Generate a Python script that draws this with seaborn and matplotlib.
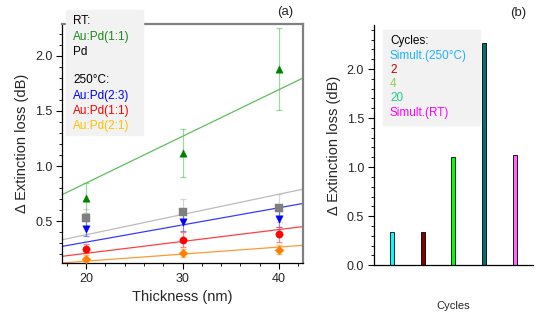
import seaborn as sns
import matplotlib.pyplot as plt
import matplotlib.patches as mpatches
from matplotlib.ticker import MultipleLocator
import numpy as np
import pandas as pd

sns.set_style("ticks")
plt.rcParams['font.family'] = ['Liberation Sans', 'DejaVu Sans']

# panel (a): extinction loss vs thickness
thickness = [20, 30, 40]
rt_aupd11 = [0.71, 1.12, 1.88]
rt_aupd11_err = [0.14, 0.22, 0.37]
rt_pd = [0.53, 0.58, 0.62]
rt_pd_err = [0.08, 0.12, 0.13]
ht_aupd23 = [0.43, 0.49, 0.52]
ht_aupd23_err = [0.07, 0.08, 0.07]
ht_aupd11 = [0.25, 0.33, 0.38]
ht_aupd11_err = [0.04, 0.07, 0.07]
ht_aupd21 = [0.16, 0.21, 0.24]
ht_aupd21_err = [0.03, 0.04, 0.04]

# linear fits (slope, intercept) as drawn in the figure
fit_slopes = [0.0424, 0.0184, 0.0156, 0.0108, 0.0064]
fit_intercepts = [-0.002, 0.008, -0.003, -0.009, 0.008]

# panel (b): extinction loss per cycle scheme
cycle_labels = ["Simult.(250°C)", "2", "4", "20", "Simult.(RT)"]
cycle_loss = [0.34, 0.34, 1.10, 2.27, 1.12]

series = [
    (rt_aupd11, rt_aupd11_err, "#007f00", "#5cbf5c", "^"),
    (rt_pd, rt_pd_err, "#7f7f7f", "#bcbcbc", "s"),
    (ht_aupd23, ht_aupd23_err, "#0000ff", "#3a3aff", "v"),
    (ht_aupd11, ht_aupd11_err, "#ff0000", "#ff4040", "o"),
    (ht_aupd21, ht_aupd21_err, "#ff8000", "#ff9a33", "D"),
]

fig = plt.figure(figsize=(5.45, 3.16), dpi=100)
ax1 = fig.add_axes([0.114, 0.168, 0.442, 0.756])
ax2 = fig.add_axes([0.686, 0.161, 0.292, 0.760])

xlim = (17.5, 42.5)
xs = np.array(xlim)
for (vals, err, c, lc, m), k, b in zip(series, fit_slopes, fit_intercepts):
    sns.lineplot(x=xs, y=k * xs + b, ax=ax1, color=lc, lw=0.9, zorder=2)
    ax1.errorbar(thickness, vals, yerr=err, fmt="none", ecolor=lc, alpha=0.6,
                 elinewidth=0.9, capsize=2.5, capthick=0.9, zorder=3)
    sns.scatterplot(x=thickness, y=vals, ax=ax1, color=c, marker=m,
                    s=28 if m != "D" else 20, edgecolor=c, linewidth=0.3, zorder=4)

ax1.set_xlim(*xlim)
ax1.set_ylim(0.12, 2.29)
ax1.set_xticks([20, 30, 40])
ax1.set_yticks([0.5, 1.0, 1.5, 2.0])
ax1.xaxis.set_minor_locator(MultipleLocator(2))
ax1.yaxis.set_minor_locator(MultipleLocator(0.1))
ax1.set_xlabel("Thickness (nm)", fontsize=10.5, labelpad=4)
ax1.set_ylabel("Δ Extinction loss (dB)", fontsize=10.5, labelpad=4)
for s in ["top", "right"]:
    ax1.spines[s].set_color("#808080")
    ax1.spines[s].set_linewidth(1.6)
for s in ["left", "bottom"]:
    ax1.spines[s].set_color("black")
    ax1.spines[s].set_linewidth(0.9)

df_b = pd.DataFrame({"cycles": cycle_labels, "loss": cycle_loss})
bar_colors = ["#00ffff", "#800000", "#00ff00", "#007070", "#ff66ff"]
sns.barplot(data=df_b, x="cycles", y="loss", hue="cycles", palette=bar_colors,
            saturation=1, width=0.13, edgecolor="black", linewidth=0.6,
            legend=False, ax=ax2)
ax2.set_xlim(-0.6, 4.6)
ax2.set_ylim(0, 2.45)
ax2.set_xticks([])
ax2.set_yticks([0.0, 0.5, 1.0, 1.5, 2.0])
ax2.yaxis.set_minor_locator(MultipleLocator(0.1))
ax2.set_xlabel("Cycles", fontsize=8, labelpad=26)
ax2.set_ylabel("Δ Extinction loss (dB)", fontsize=10.5, labelpad=4)
sns.despine(ax=ax2)
ax2.spines["left"].set_color("black")
ax2.spines["bottom"].set_color("black")
ax2.spines["left"].set_linewidth(0.9)
ax2.spines["bottom"].set_linewidth(0.9)

for ax in (ax1, ax2):
    ax.tick_params(which="major", direction="out", length=4, width=0.8,
                   labelsize=9, color="black", pad=3)
    ax.tick_params(which="minor", direction="out", length=2, width=0.6, color="black")
    ax.tick_params(axis="x", which="minor", bottom=(ax is ax1))

fig.text(285 / 545, 1 - 12 / 316, "(a)", fontsize=9.5, ha="center", va="center")
fig.text(518 / 545, 1 - 13 / 316, "(b)", fontsize=9.5, ha="center", va="center")

# legend boxes drawn as text blocks
W, H = 545, 316
fig.patches.append(mpatches.Rectangle((66 / W, 1 - 135 / H), 77 / W, 125 / H,
                                      transform=fig.transFigure, color="#f2f2f2",
                                      zorder=5))
leg_a = [("RT:", "black", 21), ("Au:Pd(1:1)", "#1a8a1a", 37), ("Pd", "black", 52),
         ("250°C:", "black", 80), ("Au:Pd(2:3)", "#0000ff", 96),
         ("Au:Pd(1:1)", "#ff0000", 111), ("Au:Pd(2:1)", "#ffc000", 126)]
for txt, c, y in leg_a:
    fig.text(73 / W, 1 - y / H, txt, color=c, fontsize=8.5, va="center", zorder=6)

fig.patches.append(mpatches.Rectangle((383 / W, 1 - 125 / H), 97 / W, 95 / H,
                                      transform=fig.transFigure, color="#f2f2f2",
                                      zorder=5))
leg_b = [("Cycles:", "black", 41), ("Simult.(250°C)", "#1eb4ff", 56),
         ("2", "#c00000", 70), ("4", "#92d050", 84), ("20", "#20d090", 98),
         ("Simult.(RT)", "#ff00ff", 113)]
for txt, c, y in leg_b:
    fig.text(390 / W, 1 - y / H, txt, color=c, fontsize=8.5, va="center", zorder=6)

fig.savefig("out.png", dpi=100)
